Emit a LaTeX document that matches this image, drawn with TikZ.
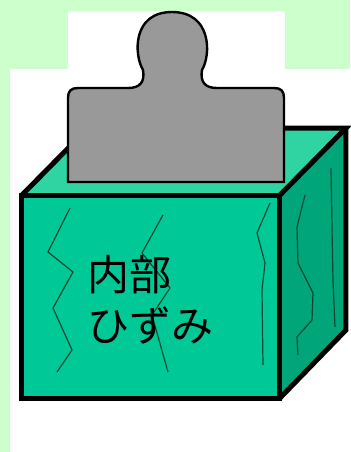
\documentclass[tikz,border=0pt]{standalone}
\usepackage{fontspec}
\newfontfamily\jpfont{Noto Sans CJK JP}
\usepackage{tikz}
\usepackage{xcolor}

\definecolor{paleGreen}{HTML}{CCFFCC}
\definecolor{boxFront}{HTML}{00C896}
\definecolor{boxSide}{HTML}{00A67A}
\definecolor{boxTop}{HTML}{30D3A2}
\definecolor{crackLine}{HTML}{084A30}
\definecolor{weightGray}{HTML}{999999}

\begin{document}
\begin{tikzpicture}[x=0.5pt,y=-0.5pt,
  boxedge/.style={draw=black,line width=2.5pt,line join=miter},
  crack/.style={draw=crackLine,line width=0.6pt,line join=round}]
% page and white panels
\useasboundingbox (0,0) rectangle (350,452);
\fill[paleGreen] (0,0) rectangle (350,452);
\fill[white] (68,11) rectangle (285,70);
\fill[white] (10,69) rectangle (350,452);
% box: top and side faces
\fill[boxTop] (22,195) -- (280,195) -- (346,128) -- (88,128) -- cycle;
\fill[boxSide] (280,195) -- (346,128) -- (346,330) -- (280,398) -- cycle;
\draw[boxedge] (22,195) -- (88,128) -- (346,128) -- (280,195);
\draw[boxedge] (346,128) -- (346,330) -- (280,398);
% weight standing on the box
\draw[fill=weightGray,line width=1.2pt]
  (68,182) -- (68,98) .. controls (68,91) and (71,88) .. (78,88) -- (128,88)
  .. controls (140,88) and (145,82) .. (143,70)
  .. controls (134,55) and (132,12) .. (172,12)
  .. controls (212,12) and (211,55) .. (202,70)
  .. controls (200,82) and (205,88) .. (217,88) -- (274,88)
  .. controls (281,88) and (284,91) .. (284,98) -- (284,182) -- cycle;
% front face
\fill[boxFront] (22,195) rectangle (280,398);
\draw[boxedge] (22,195) rectangle (280,398);
% cracks on the front face
\draw[crack] (70,208) -- (48,252) -- (73,272) -- (53,308) -- (72,350) -- (57,372);
\draw[crack] (163,215) -- (142,253) -- (170,288) -- (152,315) -- (168,372);
\draw[crack] (270,203) -- (257,233) -- (265,263) -- (262,290) -- (263,365);
% cracks on the side face
\draw[crack] (305,195) -- (297,227) -- (298,263) -- (313,293) -- (312,320) -- (297,337) -- (298,355);
\draw[crack] (331,168) -- (332,227) -- (333,280) -- (335,327);
% label
\node[font=\jpfont\fontsize{21pt}{25.5pt}\selectfont,align=left,anchor=base west,inner sep=0pt]
  (strain) at (87,341) {内部\\ひずみ};
\end{tikzpicture}
\end{document}
